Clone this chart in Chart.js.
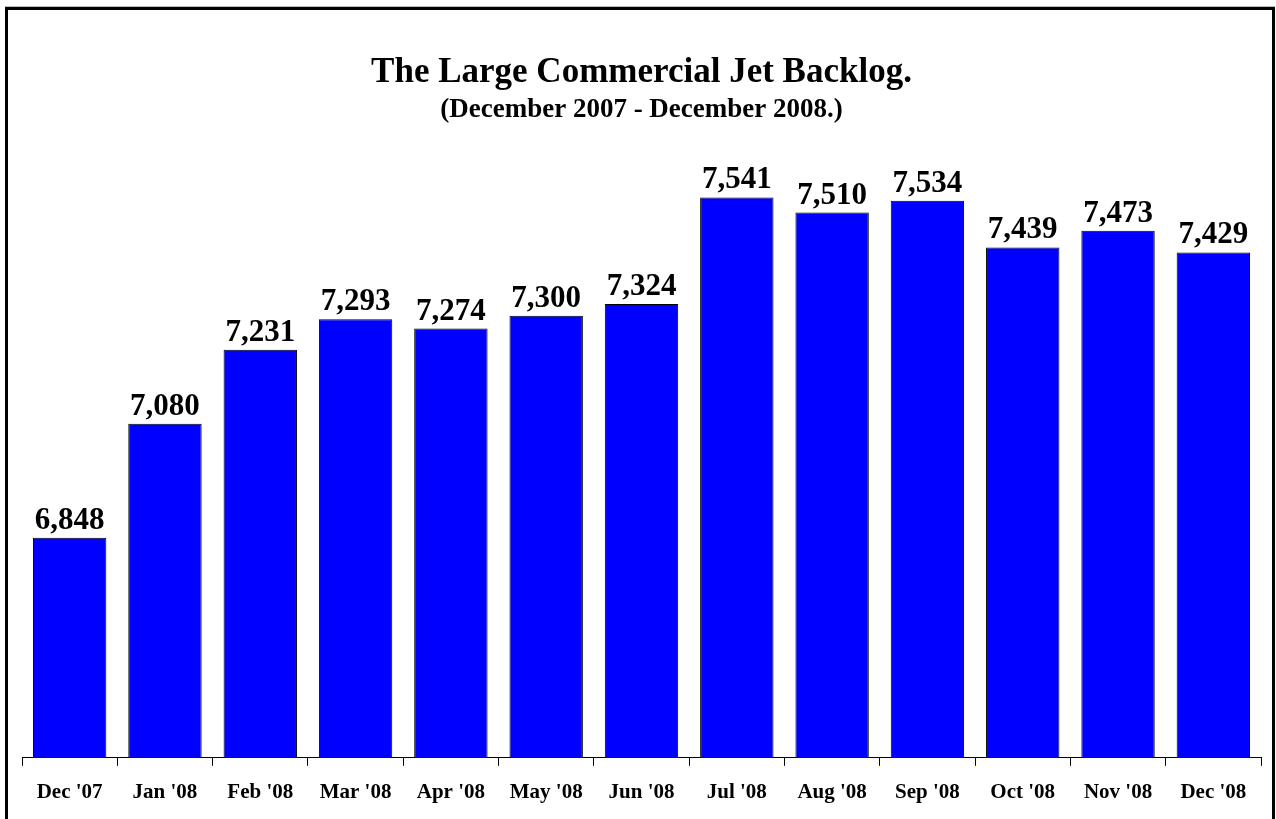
<!DOCTYPE html>
<html>
<head>
<meta charset="utf-8">
<title>Large Commercial Jet Backlog</title>
<script src="https://cdn.jsdelivr.net/npm/chart.js@4/dist/chart.umd.min.js"></script>
<style>
  html, body { margin: 0; padding: 0; background: #fff; overflow: hidden; }
  /* frame around the whole chart */
  #frame {
    position: absolute; left: 5px; top: 7px;
    width: 1270px; height: 900px;
    box-sizing: border-box;
    border: 3px solid #000;
    box-shadow: 0 -1px 0 #bbb;
  }
  #chart { position: absolute; left: 0; top: 0; }
</style>
</head>
<body>
<div id="frame"></div>
<canvas id="chart" width="1276" height="819"></canvas>
<script>
// Dữ liệu backlog theo tháng
const months = ["Dec '07", "Jan '08", "Feb '08", "Mar '08", "Apr '08", "May '08", "Jun '08",
                "Jul '08", "Aug '08", "Sep '08", "Oct '08", "Nov '08", "Dec '08"];
const backlog = [6848, 7080, 7231, 7293, 7274, 7300, 7324, 7541, 7510, 7534, 7439, 7473, 7429];

const Y_MIN = 6400;
const Y_MAX = 7600;

const serif = "'Liberation Serif', 'Times New Roman', serif";

// Vẽ số liệu phía trên mỗi cột
const valueLabels = {
  id: "valueLabels",
  afterDatasetsDraw(chart) {
    const ctx = chart.ctx;
    const meta = chart.getDatasetMeta(0);
    ctx.save();
    ctx.font = "bold 31px " + serif;
    ctx.fillStyle = "#000";
    ctx.textAlign = "center";
    ctx.textBaseline = "alphabetic";
    meta.data.forEach((bar, i) => {
      ctx.fillText(backlog[i].toLocaleString("en-US"), bar.x, bar.y - 9);
    });
    ctx.restore();
  }
};

new Chart(document.getElementById("chart").getContext("2d"), {
  type: "bar",
  data: {
    labels: months,
    datasets: [{
      data: backlog,
      backgroundColor: "#0000ff",
      borderColor: "#000",
      borderWidth: 1,
      barPercentage: 0.77,
      categoryPercentage: 1
    }]
  },
  options: {
    responsive: false,
    animation: false,
    layout: { padding: { left: 22, right: 15, top: 0, bottom: 0 } },
    plugins: {
      legend: { display: false },
      tooltip: { enabled: false },
      title: {
        display: true,
        text: "The Large Commercial Jet Backlog.",
        color: "#000",
        font: { family: serif, size: 35, weight: "bold" },
        padding: { top: 52, bottom: 0 }
      },
      subtitle: {
        display: true,
        text: "(December 2007 - December 2008.)",
        color: "#000",
        font: { family: serif, size: 27, weight: "bold" },
        padding: { top: 0, bottom: 42 }
      }
    },
    scales: {
      x: {
        grid: {
          display: true,
          offset: true,
          drawOnChartArea: false,
          drawTicks: true,
          tickLength: 8,
          color: "#000",
          lineWidth: 1
        },
        border: { display: true, color: "#000", width: 1 },
        ticks: {
          color: "#000",
          padding: 14,
          maxRotation: 0,
          autoSkip: false,
          font: { family: serif, size: 21, weight: "bold" }
        }
      },
      y: {
        display: false,
        min: Y_MIN,
        max: Y_MAX
      }
    }
  },
  plugins: [valueLabels]
});
</script>
</body>
</html>
